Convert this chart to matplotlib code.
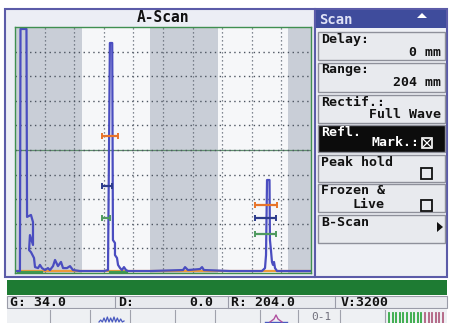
import numpy as np
import matplotlib.pyplot as plt
from matplotlib.patches import Rectangle, Polygon

plt.rcParams['font.family'] = ['DejaVu Sans Mono', 'DejaVu Sans']

# A-scan trace: depth (mm) and amplitude (% screen height)
trace_mm = [0.7, 3.4, 3.8, 7.9, 8.3, 11.0, 12.4, 12.4, 10.3, 9.7, 11.0, 13.1, 13.8,
            15.9, 17.2, 18.6, 20.7, 22.7, 24.1, 26.2, 27.6, 29.6, 31.7, 33.1, 35.8,
            37.9, 40.0, 44.8,
            61.3, 64.1, 65.4, 67.0, 67.5, 68.9, 68.9, 70.3, 71.0, 72.4, 73.7, 75.1,
            76.5, 77.9,
            93.0, 115.8, 117.2, 119.2, 127.5, 128.9, 130.2, 148.2,
            170.2, 172.3, 173.0, 173.7, 175.4, 175.7, 176.4, 177.1, 177.8, 178.5,
            179.2, 180.6, 204.0]
trace_amp = [0.8, 0.8, 99.2, 99.2, 22.8, 23.6, 20.7, 11.4, 15.4, 9.3, 8.5, 6.1, 2.4,
             2.0, 3.3, 2.0, 1.2, 2.0, 1.2, 2.8, 5.3, 2.8, 4.5, 2.0, 2.0,
             2.8, 1.2, 0.8,
             0.8, 1.2, 93.5, 93.5, 13.4, 12.2, 7.3, 6.1, 3.3, 2.0, 1.2, 2.4,
             1.2, 0.8,
             0.8, 1.2, 2.4, 1.2, 1.6, 2.4, 1.2, 0.8,
             0.8, 2.0, 7.3, 37.8, 37.8, 13.4, 9.3, 4.5, 3.3, 4.5,
             2.0, 0.8, 0.8]

# reflection markers: centre (mm), half width (mm), amplitude (%)
mark_mm = [65.5, 63.2, 62.6, 172.9, 172.9, 172.9]
mark_half = [5.7, 3.4, 2.9, 7.5, 7.2, 7.2]
mark_amp = [55.7, 35.4, 22.4, 27.6, 22.4, 15.9]
mark_col = ['#e8742a', '#2c3b8c', '#4f9a5f', '#e8742a', '#2c3b8c', '#4f9a5f']

# gray bands on the screen (mm)
band_start = [0.0, 93.0, 188.2]
band_end = [46.2, 139.9, 204.0]

# gates along the base line
gate_green = [(2.1, 18.6), (65.5, 77.2)]

range_mm = 204
gain, delay, rng, velocity = 34.0, 0.0, 204.0, 3200

menu_top = ['Delay:', 'Range:', 'Rectif.:', 'Refl.', 'Peak hold', 'Frozen &', 'B-Scan']
menu_bottom = ['0 mm', '204 mm', 'Full Wave', 'Mark.:', '', 'Live', '']
menu_y = [(32, 60), (63, 92), (95, 123), (125, 152), (155, 182), (184, 212), (215, 243)]

fig = plt.figure(figsize=(4.5, 3.23), dpi=100)
ui = fig.add_axes([0, 0, 1, 1])
ui.set_xlim(0, 450)
ui.set_ylim(323, 0)
ui.axis('off')


def box(x0, y0, x1, y1, fc, ec='none', lw=1.0):
    ui.add_patch(Rectangle((x0, y0), x1 - x0, y1 - y0, fc=fc, ec=ec, lw=lw))


# panels
box(5, 9, 315, 277, '#eceef5', '#5b5ba8', 1.5)
ui.text(163, 18, 'A-Scan', ha='center', va='center', fontsize=10.5, fontweight='bold', color='#111')
box(315, 9, 447, 277, '#eef0f5', '#5b5ba8', 1.5)
box(316, 10, 446, 28, '#3f4c9c')
ui.text(319, 19.5, 'Scan', ha='left', va='center', fontsize=10, fontweight='bold', color='#dfe2f6')
ui.add_patch(Polygon([(417, 18), (427, 18), (422, 13)], closed=True, fc='white', ec='none'))

mt = dict(fontsize=9.5, fontweight='bold')
for i, (top, bot) in enumerate(zip(menu_top, menu_bottom)):
    y0, y1 = menu_y[i]
    dark = top == 'Refl.'
    box(318, y0, 445, y1, '#0c0c0c' if dark else '#e8eaee', '#8e909a', 1.0)
    col = 'white' if dark else '#111'
    ui.text(321, y0 + 7, top, ha='left', va='center', color=col, **mt)
    if bot:
        if bot == 'Live':
            ui.text(352, y0 + 20, bot, ha='left', va='center', color=col, **mt)
        elif bot == 'Mark.:':
            ui.text(419, y0 + 18, bot, ha='right', va='center', color=col, **mt)
        else:
            ui.text(441, y0 + 20, bot, ha='right', va='center', color=col, **mt)

# check boxes
ui.add_patch(Rectangle((422, 138), 10, 10, fc='none', ec='white', lw=1.2))
ui.plot([423.5, 430.5], [139.5, 146.5], color='white', lw=0.9)
ui.plot([423.5, 430.5], [146.5, 139.5], color='white', lw=0.9)
ui.add_patch(Rectangle((421, 168), 11, 11, fc='none', ec='#111', lw=1.3))
ui.add_patch(Rectangle((421, 200), 11, 11, fc='none', ec='#111', lw=1.3))
ui.add_patch(Polygon([(437, 222), (437, 232), (443, 227)], closed=True, fc='#111', ec='none'))

# bottom bars
box(7, 280, 447, 295, '#1e7b33')
box(7, 296, 447, 308, '#e8eaee', '#9a9ca8', 0.8)
for xs in [115, 228, 335]:
    ui.plot([xs, xs], [296, 308], color='#9a9ca8', lw=0.8)
st = dict(va='center', fontsize=9.5, fontweight='bold', color='#111')
ui.text(10, 302.5, f'G: {gain:.1f}', ha='left', **st)
ui.text(118, 302.5, 'D:', ha='left', **st)
ui.text(213, 302.5, f'{delay:.1f}', ha='right', **st)
ui.text(231, 302.5, f'R: {rng:.1f}', ha='left', **st)
ui.text(341, 302.5, f'V:{velocity}', ha='left', **st)

box(7, 309, 447, 324, '#eef0f3')
for xs in [50, 90, 130, 175, 215, 260, 298, 340, 385]:
    ui.plot([xs, xs], [310, 323], color='#a0a2ac', lw=0.8)
wave_x = np.linspace(99, 124, 16)
wave_y = [322, 320, 322, 318, 322, 317, 322, 318, 322, 317, 322, 318, 322, 319, 322, 321]
ui.plot(wave_x, wave_y, color='#4a5ac0', lw=0.9)
ui.plot([265, 287], [322, 322], color='#4a5ac0', lw=1.0)
ui.plot([270, 274, 276, 278, 282], [322, 319, 315, 319, 322], color='#b050a0', lw=1.0)
ui.text(311, 317, '0-1', ha='left', va='center', fontsize=8, color='#70707c')
for k in range(16):
    bx = 389 + k * 3.6
    ui.plot([bx, bx], [313, 323], color='#33aa44' if k < 10 else '#b06080', lw=1.3)

# A-scan screen
ax = fig.add_axes([15 / 450, 50 / 323, 296 / 450, 246 / 323])
ax.set_facecolor('#f6f7f9')
ax.set_xlim(0, range_mm)
ax.set_ylim(0, 100)
for s, e in zip(band_start, band_end):
    ax.axvspan(s, e, color='#c9ced7', lw=0)
for k in range(1, 10):
    ax.axvline(k * range_mm / 10, color='#5c6470', lw=0.9, ls=(0, (1, 2.2)))
    if k == 5:
        ax.axhline(50, color='#5e8c6c', lw=0.9)
    ax.axhline(k * 10, color='#4c5460', lw=1.0, ls=(0, (1, 2.5)))
ax.axhline(1.0, color='#ee9a3a', lw=1.6)
for g0, g1 in gate_green:
    ax.plot([g0, g1], [0.4, 0.4], color='#3f9a50', lw=1.6)
ax.plot(trace_mm, trace_amp, color='#4a4dc0', lw=1.6)
for m, h, a, c in zip(mark_mm, mark_half, mark_amp, mark_col):
    ax.errorbar(m, a, xerr=h, fmt='none', ecolor=c, elinewidth=1.6, capsize=2, capthick=1.4)
ax.set_xticks([])
ax.set_yticks([])
for sp in ax.spines.values():
    sp.set_color('#3f8f50')
    sp.set_linewidth(1.0)

fig.savefig('out.png', dpi=100)
